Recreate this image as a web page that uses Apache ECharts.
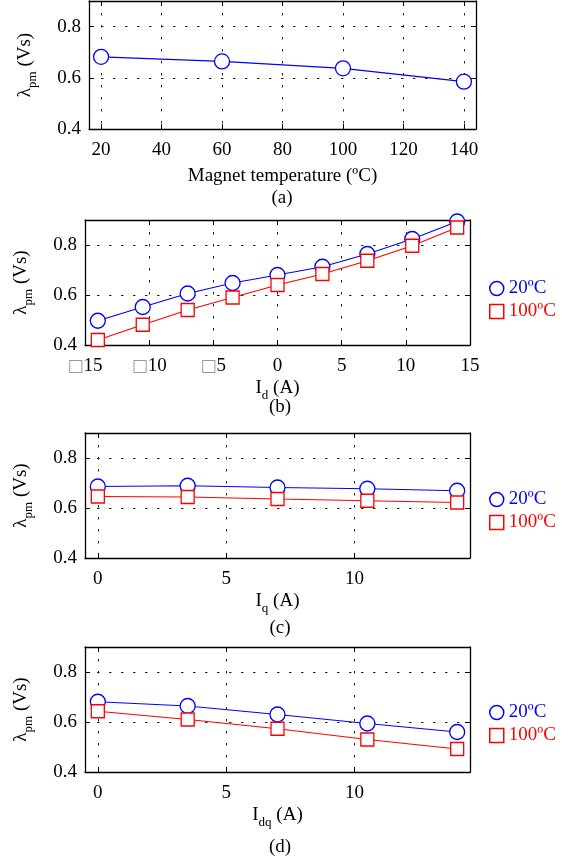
<!DOCTYPE html>
<html><head><meta charset="utf-8">
<script src="https://cdn.jsdelivr.net/npm/echarts@6/dist/echarts.min.js"></script>
<style>html,body{margin:0;padding:0;background:#fff}#c{width:579px;height:862px}</style>
</head><body><div id="c"></div>
<script>
// ---- data ----
const seriesNames = ['20ºC', '100ºC'];
const tempX = [20, 60, 100, 140];
const lambdaTemp = [0.682, 0.664, 0.637, 0.585];
const idX = [-14, -10.5, -7, -3.5, 0, 3.5, 7, 10.5, 14];
const idBlue20 = [0.497, 0.552, 0.606, 0.648, 0.680, 0.713, 0.764, 0.824, 0.894];
const idRed100 = [0.420, 0.481, 0.540, 0.590, 0.640, 0.684, 0.737, 0.797, 0.870];
const iqX = [0, 3.5, 7, 10.5, 14];
const iqBlue20 = [0.686, 0.689, 0.682, 0.677, 0.669];
const iqRed100 = [0.646, 0.644, 0.636, 0.629, 0.622];
const idqX = [0, 3.5, 7, 10.5, 14];
const idqBlue20 = [0.681, 0.664, 0.630, 0.594, 0.560];
const idqRed100 = [0.643, 0.610, 0.573, 0.530, 0.492];
const yTicks = [0.4, 0.6, 0.8];
const yTickLabels = ['0.4', '0.6', '0.8'];
const tempTicks = [20, 40, 60, 80, 100, 120, 140];
const tempTickLabels = ['20', '40', '60', '80', '100', '120', '140'];
const idTicks = [-15, -10, -5, 0, 5, 10, 15];
const idTickLabels = ['\u25A115', '\u25A110', '\u25A15', '0', '5', '10', '15'];
const iTicks = [0, 5, 10];
const iTickLabels = ['0', '5', '10'];
const captions = ['(a)', '(b)', '(c)', '(d)'];

// ---- style ----
const FONT = 'Liberation Serif';
const BLUE = '#0000ff', RED = '#ff0000';
const grids = [
  {left: 89, right: 103, top: 1, height: 128},
  {left: 85, right: 109, top: 220, height: 125},
  {left: 85, right: 109, top: 433, height: 125},
  {left: 85, right: 109, top: 647, height: 125}
];
const xRanges = [[16, 144], [-15, 15], [-0.5, 14.5], [-0.5, 14.5]];
const xTickSets = [[tempTicks, tempTickLabels], [idTicks, idTickLabels], [iTicks, iTickLabels], [iTicks, iTickLabels]];
const xNames = ['{n|Magnet temperature (ºC)}', '{l|I}{s|d}{l| (A)}', '{l|I}{s|q}{l| (A)}', '{l|I}{s|dq}{l| (A)}'];
const xNameGaps = [38, 30, 30, 30];

const rich = {
  l: {fontFamily: FONT, fontSize: 19, color: '#000'},
  s: {fontFamily: FONT, fontSize: 13, color: '#000', padding: [14, 0, 0, 0]},
  m: {fontFamily: 'DejaVu Sans', fontSize: 17, color: '#999'},
  n: {fontFamily: FONT, fontSize: 19, color: '#000'}
};
const lineAx = {show: true, onZero: false, lineStyle: {color: '#000', width: 1.3}};
const tickIn = {show: true, inside: true, length: 5, lineStyle: {color: '#000', width: 1}};
const splitDot = {show: true, lineStyle: {color: '#222', width: 1, type: [2.5, 9.5]}};

function labelFmt(ticks, labels) {
  return function (v) {
    let i = ticks.findIndex(t => Math.abs(t - v) < 1e-9);
    let s = i >= 0 ? labels[i] : '';
    if (s.indexOf('\u25A1') === 0) return '{m|\u25A1}{n|' + s.slice(1) + '}';
    return '{n|' + s + '}';
  };
}

const xAxis = [], yAxis = [];
grids.forEach((g, k) => {
  const [tk, tl] = xTickSets[k];
  xAxis.push({
    type: 'value', gridIndex: k, position: 'bottom', min: xRanges[k][0], max: xRanges[k][1],
    axisLine: lineAx, axisTick: Object.assign({customValues: tk}, tickIn),
    axisLabel: {customValues: tk, formatter: labelFmt(tk, tl), margin: 12, rich: rich},
    splitLine: splitDot,
    name: xNames[k], nameLocation: 'middle', nameGap: xNameGaps[k],
    nameTextStyle: {fontFamily: FONT, fontSize: 19, color: '#000', rich: rich}
  });
  xAxis.push({
    type: 'value', gridIndex: k, position: 'top', min: xRanges[k][0], max: xRanges[k][1],
    axisLine: lineAx, axisTick: Object.assign({customValues: tk}, tickIn),
    axisLabel: {show: false}, splitLine: {show: false}
  });
  yAxis.push({
    type: 'value', gridIndex: k, position: 'left', min: 0.4, max: 0.9,
    axisLine: lineAx, axisTick: Object.assign({customValues: yTicks}, tickIn),
    axisLabel: {customValues: yTicks, formatter: labelFmt(yTicks, yTickLabels), margin: 8, rich: rich},
    splitLine: splitDot,
    name: '{l|λ}{s|pm}{l| (Vs)}', nameLocation: 'middle', nameRotate: 90, nameGap: 50,
    nameTextStyle: {fontFamily: FONT, fontSize: 19, color: '#000', rich: rich}
  });
  yAxis.push({
    type: 'value', gridIndex: k, position: 'right', min: 0.4, max: 0.9,
    axisLine: lineAx, axisTick: Object.assign({customValues: yTicks}, tickIn),
    axisLabel: {show: false}, splitLine: {show: false}
  });
});

function mk(name, xs, ys, k, color, symbol, size) {
  return {
    name: name, type: 'line', xAxisIndex: 2 * k, yAxisIndex: 2 * k,
    data: xs.map((x, i) => [x, ys[i]]),
    symbol: symbol, symbolSize: size, showAllSymbol: true,
    lineStyle: {color: color, width: 1.2},
    itemStyle: {color: '#fff', borderColor: color, borderWidth: 1.3},
    emphasis: {disabled: true}, animation: false, clip: false
  };
}
const series = [
  mk(seriesNames[0], tempX, lambdaTemp, 0, BLUE, 'circle', 15),
  mk(seriesNames[0], idX, idBlue20, 1, BLUE, 'circle', 15),
  mk(seriesNames[1], idX, idRed100, 1, RED, 'rect', 13),
  mk(seriesNames[0], iqX, iqBlue20, 2, BLUE, 'circle', 15),
  mk(seriesNames[1], iqX, iqRed100, 2, RED, 'rect', 13),
  mk(seriesNames[0], idqX, idqBlue20, 3, BLUE, 'circle', 15),
  mk(seriesNames[1], idqX, idqRed100, 3, RED, 'rect', 13)
];

const legendTops = [274, 485, 698];
const legend = legendTops.map(t => ({
  orient: 'vertical', left: 484, top: t, itemWidth: 14, itemHeight: 14, itemGap: 4,
  selectedMode: false,
  textStyle: {fontFamily: FONT, fontSize: 19},
  data: [
    {name: seriesNames[0], icon: 'circle', itemStyle: {color: '#fff', borderColor: BLUE, borderWidth: 1.5}, textStyle: {color: BLUE}},
    {name: seriesNames[1], icon: 'rect', itemStyle: {color: '#fff', borderColor: RED, borderWidth: 1.5}, textStyle: {color: RED}}
  ]
}));

const capPos = [[282, 198], [280, 407], [280, 628], [280, 847]];
const graphic = captions.map((c, i) => ({
  type: 'text', x: capPos[i][0], y: capPos[i][1],
  style: {text: c, fontFamily: FONT, fontSize: 19, fill: '#000', align: 'center', verticalAlign: 'middle'}
}));

const chart = echarts.init(document.getElementById('c'), null, {renderer: 'canvas'});
chart.setOption({
  animation: false,
  textStyle: {fontFamily: FONT},
  grid: grids,
  xAxis: xAxis, yAxis: yAxis, series: series, legend: legend, graphic: graphic
});
</script></body></html>
